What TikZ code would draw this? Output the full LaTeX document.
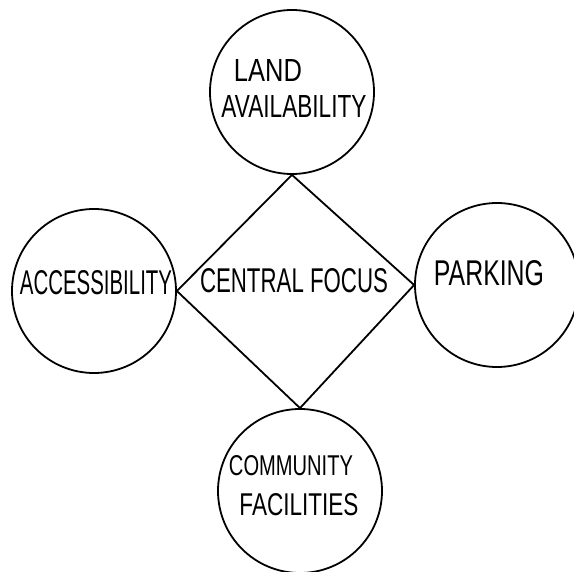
\documentclass[tikz,border=0pt]{standalone}
\usepackage{fontspec}
\setsansfont{Liberation Sans}
\usepackage{graphicx}
\newcommand{\handtext}[3]{\resizebox{#1pt}{#2pt}{\sffamily #3}}
\begin{document}
\begin{tikzpicture}[x=1pt,y=-1pt,
  bubble/.style={draw=black,line width=1.8pt,circle,minimum size=164pt,inner sep=0pt},
  edge/.style={draw=black,line width=1.8pt,line join=miter},
  lbl/.style={inner sep=0pt,anchor=center}]
\useasboundingbox (0,0) rectangle (574,572);
\fill[white] (0,0) rectangle (574,572);
% circles
\node[bubble] (land) at (292,92) {};
\node[bubble] (access) at (94,291) {};
\node[bubble] (park) at (497,285) {};
\node[bubble] (comm) at (300,491) {};
% diamond
\draw[edge] (land.south) -- (park.west) -- (comm.north) -- (access.east) -- cycle;
% labels
\node[lbl] (t1) at (268,71) {\handtext{68}{22}{LAND}};
\node[lbl] (t2) at (294,107) {\handtext{145}{22}{AVAILABILITY}};
\node[lbl] (t3) at (96,283) {\handtext{152}{24}{ACCESSIBILITY}};
\node[lbl] (focus) at (294,281) {\handtext{188}{24}{CENTRAL FOCUS}};
\node[lbl] (t5) at (489,273) {\handtext{110}{25}{PARKING}};
\node[lbl] (t6) at (291,466) {\handtext{124}{20}{COMMUNITY}};
\node[lbl] (t7) at (299,505) {\handtext{119}{22}{FACILITIES}};
\end{tikzpicture}
\end{document}
